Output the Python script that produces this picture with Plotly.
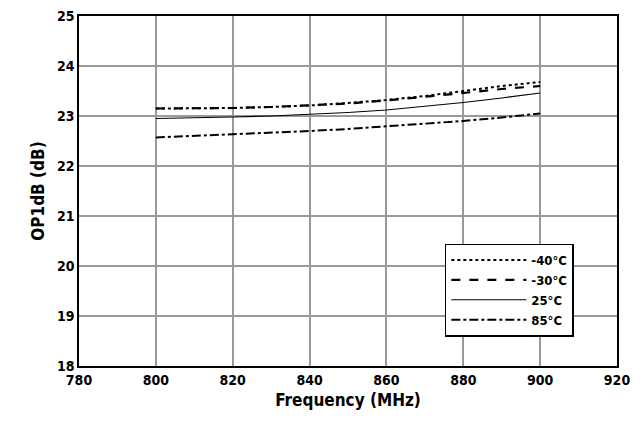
import plotly.graph_objects as go

freq = [800, 810, 820, 830, 840, 850, 860, 870, 880, 890, 900]
op_m40 = [23.15, 23.15, 23.16, 23.18, 23.21, 23.26, 23.32, 23.40, 23.50, 23.60, 23.68]
op_m30 = [23.15, 23.15, 23.16, 23.18, 23.21, 23.25, 23.31, 23.38, 23.46, 23.54, 23.60]
op_25 = [22.95, 22.96, 22.98, 23.00, 23.03, 23.07, 23.12, 23.19, 23.27, 23.36, 23.46]
op_85 = [22.57, 22.60, 22.63, 22.66, 22.70, 22.74, 22.79, 22.84, 22.90, 22.97, 23.05]

series = [("-40°C", op_m40, "dot", 2), ("-30°C", op_m30, "dash", 2.2),
          ("25°C", op_25, "solid", 1.2), ("85°C", op_85, "dashdot", 2)]
fig = go.Figure()
for name, ys, dash, w in series:
    fig.add_trace(go.Scatter(x=freq, y=ys, name=name, mode="lines",
                             line=dict(color="black", dash=dash, width=w)))

font = dict(family="DejaVu Sans Condensed", size=14, color="black")
ax = dict(showgrid=True, gridcolor="#999999", gridwidth=1.5, linecolor="black",
          linewidth=1.5, mirror=True, ticks="", zeroline=False, automargin=False,
          ticklabeloverflow="allow",
          tickfont=dict(family="DejaVu Sans Condensed", size=14, weight="bold"))
fig.update_layout(
    width=642, height=441, plot_bgcolor="white", paper_bgcolor="white",
    margin=dict(l=71, r=33, t=8, b=83), font=font,
    xaxis=dict(range=[780, 920], dtick=20,
               title=dict(text="<b>Frequency (MHz)</b>", standoff=8), **ax),
    yaxis=dict(range=[18, 25], dtick=1,
               title=dict(text="<b>OP1dB (dB)</b>", standoff=8), **ax),
    legend=dict(x=0.68, y=0.35, xanchor="left", yanchor="top",
                bordercolor="black", borderwidth=1.5, bgcolor="white",
                font=dict(size=13, weight="bold"), tracegroupgap=2,
                itemwidth=75, entrywidth=135),
)
fig.write_html("out.html")
